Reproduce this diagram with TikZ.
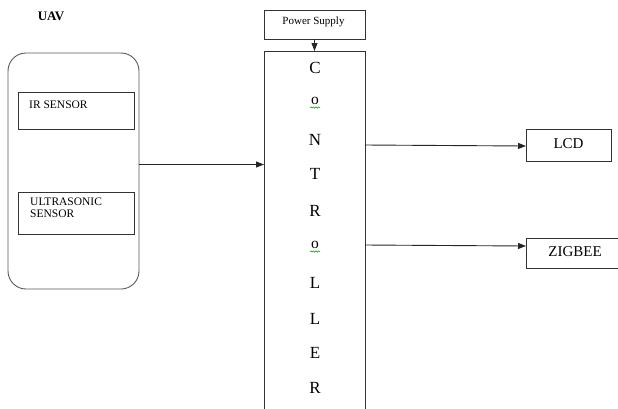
\documentclass[tikz,border=0pt]{standalone}
\usepackage{fontspec}
\setmainfont{Liberation Serif}
\usetikzlibrary{arrows.meta,decorations.pathmorphing}

\tikzset{
  box/.style={draw=black!80, line width=0.9pt, inner sep=0pt, outer sep=0pt},
  link/.style={draw=black!85, line width=0.9pt, -{Triangle[length=8pt,width=6pt]}},
  letter/.style={font=\fontsize{17}{20}\selectfont, inner sep=0pt},
  smallletter/.style={font=\fontsize{15.5}{18}\selectfont, inner sep=0pt},
  spell/.style={draw=green!60!black, line width=0.5pt,
    decorate, decoration={snake, amplitude=0.7pt, segment length=2.6pt}},
}

\begin{document}
\begin{tikzpicture}[x=1pt,y=-1pt]
\useasboundingbox (0,0) rectangle (618,408);

% heading
\node[font=\bfseries\fontsize{13}{15}\selectfont, anchor=base] (uavlabel) at (51,20) {UAV};

% UAV block with its sensors
\draw[draw=black!65, line width=0.9pt, rounded corners=18pt] (8,53) rectangle (139,289);
\coordinate (uavout) at (139,164.5);

\node[box, minimum width=116pt, minimum height=37pt, anchor=north west] (ir) at (18,92) {};
\node[font=\fontsize{11.5}{13}\selectfont, anchor=base west, inner sep=0pt] at (29,108) {IR SENSOR};

\node[box, minimum width=116pt, minimum height=42pt, anchor=north west] (us) at (18,192) {};
\node[font=\fontsize{11.5}{12.5}\selectfont, anchor=north west, inner sep=0pt, align=left] at (30,197.5) {ULTRASONIC\\SENSOR};

% power supply and controller
\node[box, minimum width=101pt, minimum height=29pt, anchor=north west] (psu) at (264,10) {};
\node[font=\fontsize{11}{13}\selectfont, anchor=base, inner sep=0pt] at (313.5,24.5) {Power Supply};

\node[box, minimum width=101pt, minimum height=360pt, anchor=north west] (ctrl) at (264,51) {};

\node[letter]      (c1) at (315,68)  {C};
\node[smallletter] (c2) at (315,101) {o};
\node[letter]      (c3) at (315,140) {N};
\node[letter]      (c4) at (315,174) {T};
\node[letter]      (c5) at (315,211) {R};
\node[smallletter] (c6) at (315,245) {o};
\node[letter]      (c7) at (315,283) {L};
\node[letter]      (c8) at (315,319) {L};
\node[letter]      (c9) at (315,353) {E};
\node[letter]      (c10) at (315,388) {R};
\path[spell] ([xshift=-5pt,yshift=-6.5pt]c2.center) -- ([xshift=5pt,yshift=-6.5pt]c2.center);
\path[spell] ([xshift=-5pt,yshift=-6.5pt]c6.center) -- ([xshift=5pt,yshift=-6.5pt]c6.center);

% outputs
\node[box, minimum width=85pt, minimum height=32pt, anchor=north west] (lcd) at (526,129) {};
\node[font=\fontsize{15}{17}\selectfont, inner sep=0pt, anchor=base] at (568.5,148.5) {LCD};
\node[box, minimum width=98pt, minimum height=30pt, anchor=north west] (zig) at (526,238) {};
\node[font=\fontsize{15}{17}\selectfont, inner sep=0pt, anchor=base] at (575,256.5) {ZIGBEE};

% connections
\coordinate (ctrlin) at (264,164.5);
\draw[link] (uavout) -- (ctrlin);
\draw[link] (psu.south) -- (psu.south |- ctrl.north);
\draw[link] (ctrl.east |- 0,145) -- (lcd.west |- 0,146);
\draw[link] (ctrl.east |- 0,245) -- (zig.west |- 0,246);
\end{tikzpicture}
\end{document}
